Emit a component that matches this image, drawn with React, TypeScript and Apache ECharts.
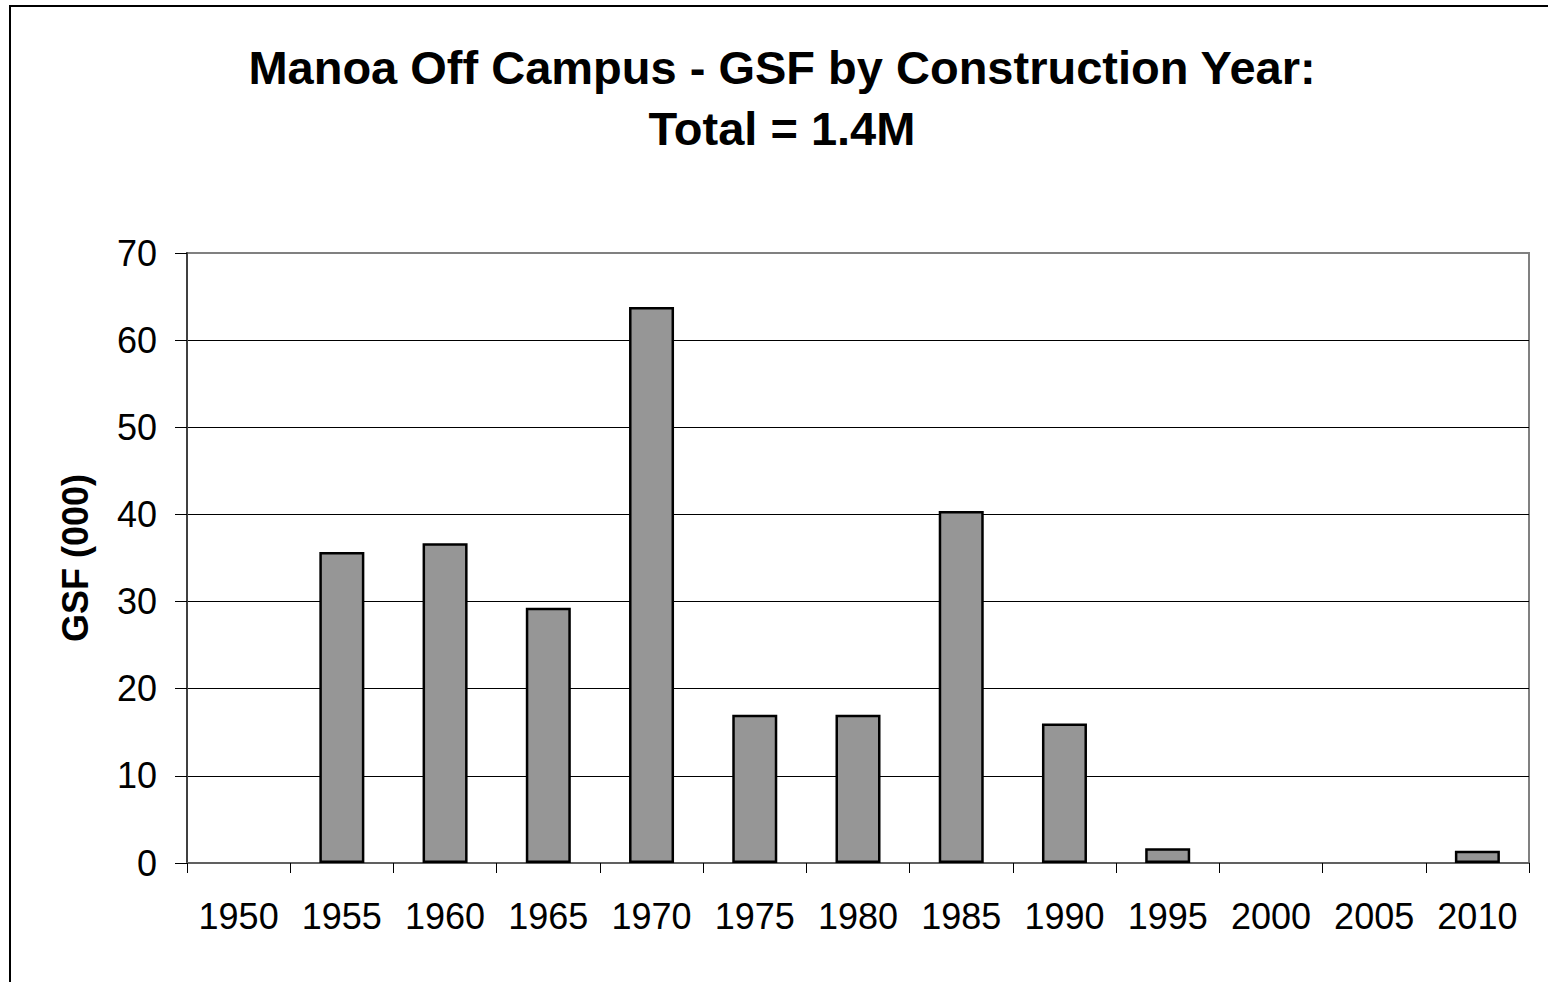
import React, { useEffect, useRef } from "react";
import * as echarts from "echarts";

const years = ["1950", "1955", "1960", "1965", "1970", "1975", "1980", "1985", "1990", "1995", "2000", "2005", "2010"];
const gsfThousands = [0, 35.7, 36.7, 29.3, 63.8, 17.0, 17.0, 40.4, 16.0, 1.7, 0, 0, 1.4];
const titleLines = ["Manoa Off Campus - GSF by Construction Year:", "Total = 1.4M"];
const yAxisName = "GSF (000)";

export default function App() {
  const ref = useRef<HTMLDivElement>(null);
  useEffect(() => {
    if (!ref.current) return;
    const chart = echarts.init(ref.current, null, { renderer: "svg" });
    const font = "'Liberation Sans', Arial, sans-serif";
    chart.setOption({
      animation: false,
      backgroundColor: "#ffffff",
      textStyle: { fontFamily: font },
      title: {
        text: titleLines.join("\n"),
        left: 777,
        top: 32,
        textAlign: "center",
        textStyle: { fontFamily: font, fontSize: 47, fontWeight: "bold", lineHeight: 61, color: "#000" },
      },
      graphic: [
        {
          type: "rect",
          shape: { x: 10, y: 6, width: 1600, height: 1040 },
          style: { fill: "none", stroke: "#000", lineWidth: 2 },
          silent: true,
        },
      ],
      grid: {
        left: 187,
        right: 19,
        top: 253,
        bottom: 119,
        show: true,
        borderColor: "#808080",
        borderWidth: 2,
        backgroundColor: "transparent",
      },
      xAxis: {
        type: "category",
        data: years,
        boundaryGap: true,
        axisLine: { show: true, lineStyle: { color: "#606060", width: 2 } },
        axisTick: { show: true, alignWithLabel: false, length: 10, lineStyle: { color: "#000", width: 1 } },
        axisLabel: { fontFamily: font, fontSize: 36, color: "#000", margin: 35, interval: 0 },
        splitLine: { show: false },
      },
      yAxis: {
        type: "value",
        min: 0,
        max: 70,
        interval: 10,
        name: yAxisName,
        nameLocation: "middle",
        nameRotate: 90,
        nameGap: 94,
        nameTextStyle: { fontFamily: font, fontSize: 36, fontWeight: "bold", color: "#000" },
        axisLine: { show: true, lineStyle: { color: "#404040", width: 2 } },
        axisTick: { show: true, length: 12, lineStyle: { color: "#000", width: 1 } },
        axisLabel: { fontFamily: font, fontSize: 36, color: "#000", margin: 30 },
        splitLine: {
          show: true,
          lineStyle: {
            color: ["#000", "#000", "#000", "#000", "#000", "#000", "#000", "#808080"],
            width: 1,
          },
        },
      },
      series: [
        {
          type: "bar",
          data: gsfThousands.map((v) => (v === 0 ? { value: v, itemStyle: { borderWidth: 0, opacity: 0 } } : v)),
          barWidth: "43.6%",
          itemStyle: { color: "#969696", borderColor: "#000", borderWidth: 2.5 },
        },
      ],
    });
    return () => chart.dispose();
  }, []);
  return (
    <div
      ref={ref}
      style={{ position: "absolute", left: 0, top: 0, width: 1548, height: 982 }}
    />
  );
}
